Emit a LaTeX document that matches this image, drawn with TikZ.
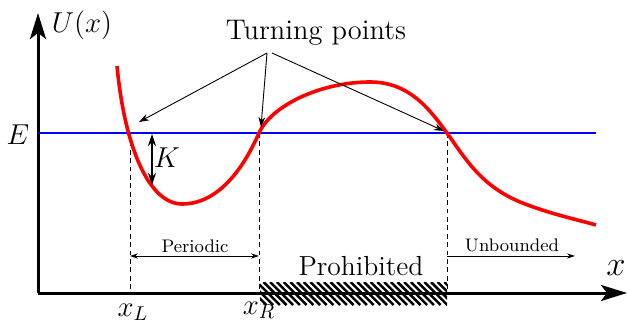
\documentclass[tikz,border=0pt]{standalone}
\usetikzlibrary{arrows.meta}
\begin{document}
\begin{tikzpicture}[x=0.5pt,y=-0.5pt,
  axisline/.style={line width=1.5pt,-{Stealth[length=13pt,width=8pt,inset=3pt]}},
  pointer/.style={line width=0.45pt,-{Stealth[length=5pt,width=3.4pt]}},
  span/.style={line width=0.4pt,-{Stealth[length=4pt,width=2.6pt]}},
  guide/.style={line width=0.45pt,dashed,dash pattern=on 2.4pt off 1.8pt},
  biglabel/.style={font=\fontsize{14.2}{16}\selectfont},
  smalllabel/.style={font=\fontsize{9.1}{11}\selectfont},
  mathlabel/.style={font=\fontsize{14}{16}\selectfont}]
\useasboundingbox (0,0) rectangle (627,321);
% coordinates
\coordinate (O) at (38,293);
\coordinate (ytip) at (38,13);
\coordinate (xtip) at (627,293);
\coordinate (E0) at (38,133);
\coordinate (E1) at (596,133);
\coordinate (pL) at (130,133);
\coordinate (pR) at (259,133);
\coordinate (pU) at (447,133);
\coordinate (bL) at (130,293);
\coordinate (bR) at (259,293);
\coordinate (bU) at (447,293);
\coordinate (aL) at (130,256);
\coordinate (aR) at (259,256);
\coordinate (aU) at (447,256);
\coordinate (aEnd) at (575,256);
\coordinate (kTop) at (152,134);
\coordinate (kBot) at (152,185);
\coordinate (s1) at (267,53);
\coordinate (s3) at (272,53);
\coordinate (t1) at (139,122);
\coordinate (t2) at (261,127);
\coordinate (t3) at (444,131);
% hatch
\begin{scope}
\clip (260,282) rectangle (447,305);
\foreach \i in {0,...,32}{
  \draw[line width=1.25pt] ({230+6.7*\i},282) -- ({253+6.7*\i},305);
}
\end{scope}
% axes
\draw[axisline] (O) -- (ytip);
\draw[axisline] (O) -- (xtip);
% energy line
\draw[blue,line width=1pt] (E0) -- (E1);
% dashed guides
\draw[guide] (pL) -- (bL);
\draw[guide] (pR) -- (bR);
\draw[guide] (pU) -- (bU);
% potential curve
\draw[red,line width=1.8pt] (117,66) .. controls (125,150) and (150,204) .. (182,204)
  .. controls (220,204) and (245,165) .. (259,133)
  .. controls (271,106) and (320,82) .. (370,82)
  .. controls (410,82) and (430,110) .. (447,133)
  .. controls (465,158) and (480,185) .. (520,202)
  .. controls (550,214) and (575,219) .. (596,225);
% K arrow
\draw[line width=0.6pt,{Stealth[length=6pt,width=4pt]}-{Stealth[length=6pt,width=4pt]}] (kTop) -- (kBot);
\node[mathlabel] (K) at (167,158) {$K$};
% periodic / unbounded
\draw[span,{Stealth[length=4pt,width=2.6pt]}-{Stealth[length=4pt,width=2.6pt]}] (aL) -- (aR);
\node[smalllabel] (per) at (195,246) {Periodic};
\draw[span] (aU) -- (aEnd);
\node[smalllabel] (unb) at (512,245) {Unbounded};
\node[font=\fontsize{13.8}{16}\selectfont] (pro) at (361,266) {Prohibited};
% turning points
\node[biglabel] (tp) at (316,33) {Turning points};
\draw[pointer] (s1) -- (t1);
\draw[pointer] (s1) -- (t2);
\draw[pointer] (s3) -- (t3);
% labels
\node[mathlabel] (U) at (82,25) {$U(x)$};
\node[mathlabel] (E) at (18,135) {$E$};
\node[mathlabel] (xL) at (133,312) {$x_L$};
\node[mathlabel] (xR) at (259,310) {$x_R$};
\node[font=\fontsize{18}{20}\selectfont] (xlab) at (616,268) {$x$};
\end{tikzpicture}
\end{document}
